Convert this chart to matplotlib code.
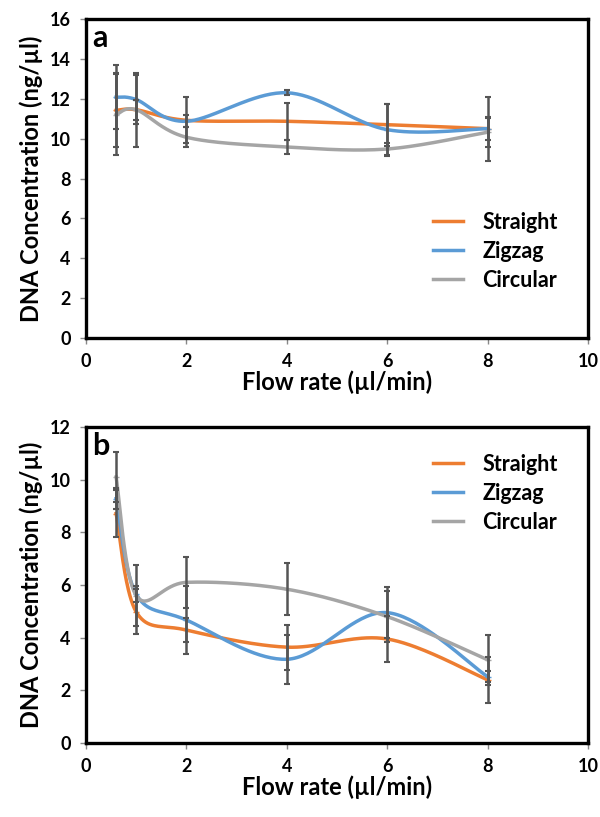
import numpy as np
import matplotlib
matplotlib.use('Agg')
import matplotlib.pyplot as plt

plt.rcParams['font.family'] = ['Lato', 'DejaVu Sans']
plt.rcParams['font.weight'] = 'bold'

flow = [0.6, 1, 2, 4, 6, 8]
series = ['Straight', 'Zigzag', 'Circular']
colors = ['#ED7D31', '#5B9BD5', '#A5A5A5']

# panel a
a_straight = [11.42, 11.45, 10.92, 10.87, 10.70, 10.50]
a_zigzag = [12.08, 11.96, 10.87, 12.30, 10.45, 10.50]
a_circular = [11.20, 11.45, 10.07, 9.58, 9.48, 10.32]
a_err_straight = [1.85, 0.50, 1.15, 0.93, 1.05, 1.60]
a_err_zigzag = [1.60, 1.25, 0.30, 0.12, 1.30, 0.55]
a_err_circular = [2.04, 1.85, 0.50, 0.33, 0.30, 0.76]

# panel b
b_straight = [8.71, 4.98, 4.29, 3.64, 3.95, 2.40]
b_zigzag = [9.28, 5.65, 4.67, 3.18, 4.95, 2.52]
b_circular = [10.10, 5.60, 6.10, 5.84, 4.80, 3.16]
b_err_straight = [0.90, 0.85, 0.45, 0.85, 0.88, 0.88]
b_err_zigzag = [0.40, 0.30, 1.28, 0.93, 0.98, 0.20]
b_err_circular = [0.95, 1.15, 0.97, 0.98, 0.97, 0.95]


def smooth(x, y, n=40):
    # excel-like smoothed line: catmull-rom through the points
    p = np.column_stack([x, y]).astype(float)
    p = np.vstack([p[0], p, p[-1]])
    out = []
    for i in range(1, len(p) - 2):
        p0, p1, p2, p3 = p[i - 1], p[i], p[i + 1], p[i + 2]
        c1 = p1 + (p2 - p0) / 6
        c2 = p2 - (p3 - p1) / 6
        t = np.linspace(0, 1, n)[:, None]
        seg = ((1 - t) ** 3) * p1 + 3 * ((1 - t) ** 2) * t * c1 + 3 * (1 - t) * t ** 2 * c2 + t ** 3 * p2
        out.append(seg if i == 1 else seg[1:])
    out = np.vstack(out)
    return out[:, 0], out[:, 1]


def panel(ax, ys, errs, ymax, letter, legend_y):
    for y, e, c, name in zip(ys, errs, colors, series):
        sx, sy = smooth(flow, y)
        ax.plot(sx, sy, color=c, lw=2.5, label=name, zorder=2)
        ax.plot(flow, y, ls='none', marker='_', ms=4, color=c, zorder=2)
    for y, e in zip(ys, errs):
        ax.errorbar(flow, y, yerr=e, fmt='none', ecolor='#555555', elinewidth=1.8,
                    capsize=2.5, capthick=1.5, zorder=3)
    ax.set_xlim(0, 10)
    ax.set_ylim(0, ymax)
    ax.set_xticks(range(0, 11, 2))
    ax.set_yticks(range(0, ymax + 1, 2))
    ax.tick_params(direction='out', length=4, width=1, color='#888888',
                   labelsize=13, pad=7)
    for s in ax.spines.values():
        s.set_linewidth(2.4)
        s.set_color('black')
    ax.set_xlabel('Flow rate (µl/min)', fontsize=17, fontweight='bold', labelpad=0)
    ax.set_ylabel('DNA Concentration (ng/µl)', fontsize=17, fontweight='bold', labelpad=5)
    ax.text(0.012, 0.985, letter, transform=ax.transAxes, fontsize=22,
            fontweight='bold', va='top', ha='left')
    ax.legend(loc='upper left', bbox_to_anchor=(0.67, legend_y), frameon=False,
              fontsize=15.5, handlelength=1.4, handletextpad=0.9, labelspacing=0.38,
              borderpad=0)


fig = plt.figure(figsize=(6.0, 8.17), dpi=100)
W, H = 600, 817
ax1 = fig.add_axes([86 / W, 1 - 338 / H, 502 / W, 319 / H])
ax2 = fig.add_axes([86 / W, 1 - 743 / H, 502 / W, 316 / H])

panel(ax1, [a_straight, a_zigzag, a_circular],
      [a_err_straight, a_err_zigzag, a_err_circular], 16, 'a', 0.43)
panel(ax2, [b_straight, b_zigzag, b_circular],
      [b_err_straight, b_err_zigzag, b_err_circular], 12, 'b', 0.95)

fig.savefig('out.png', dpi=100)
